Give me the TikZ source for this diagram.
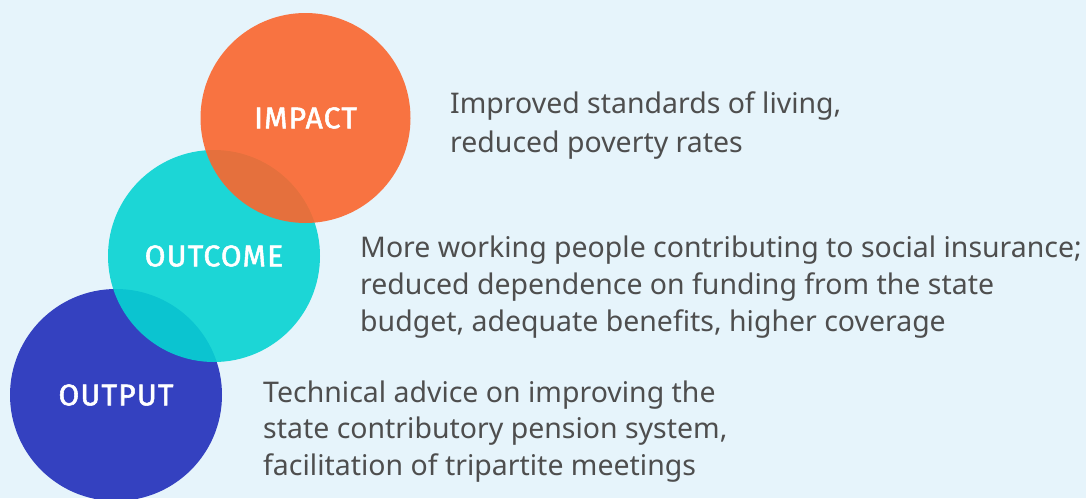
\documentclass[tikz,border=0pt]{standalone}
\usepackage{fontspec}
\setmainfont{Noto Sans}
\newfontfamily\labelfont[FakeBold=1.8,LetterSpace=4]{Fira Sans}
\definecolor{bgc}{RGB}{230,244,251}
\definecolor{orangec}{RGB}{251,102,45}
\definecolor{cyanc}{RGB}{7,211,210}
\definecolor{bluec}{RGB}{52,65,192}
\definecolor{txtc}{RGB}{78,78,78}
\tikzset{
  circ/.style={circle, minimum size=212pt, inner sep=0pt, text=white,
    font=\labelfont\fontsize{30}{32}\selectfont},
  desc/.style={anchor=base west, align=left, inner sep=0pt, text=txtc,
    font=\fontsize{28.45}{37}\selectfont},
}
\begin{document}
\begin{tikzpicture}[x=1pt,y=-1pt]
\fill[bgc] (0,0) rectangle (1086,498);
\useasboundingbox (0,0) rectangle (1086,498);
\node[circ, fill=bluec] (output) at (116,395) {OUTPUT};
\node[circ, fill=cyanc, fill opacity=0.9, text opacity=1] (outcome) at (214,256) {OUTCOME};
\node[circ, fill=orangec, fill opacity=0.9, text opacity=1, minimum size=210pt] (impact) at (305.5,118) {IMPACT};
\node[desc, font=\fontsize{28.45}{39}\selectfont] (timpact) at (450,152) {Improved standards of living,\\reduced poverty rates};
\node[desc] (toutcome) at (360,331) {More working people contributing to social insurance;\\reduced dependence on funding from the state\\budget, adequate benefits, higher coverage};
\node[desc, font=\fontsize{28.45}{36.5}\selectfont] (toutput) at (263,475) {Technical advice on improving the\\state contributory pension system,\\facilitation of tripartite meetings};
\end{tikzpicture}
\end{document}
